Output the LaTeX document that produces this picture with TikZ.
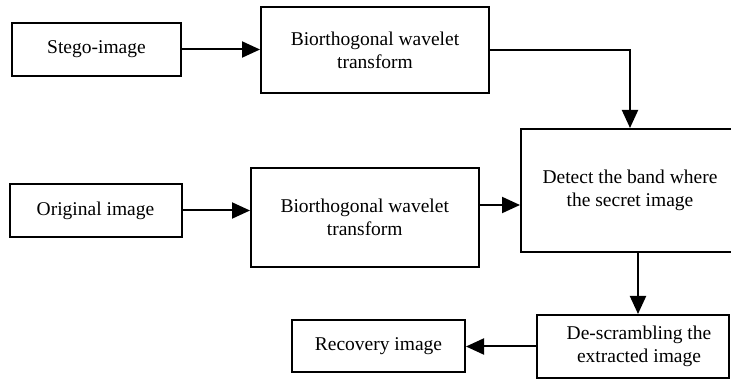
\documentclass[tikz,border=0pt]{standalone}
\usepackage{fontspec}
\setmainfont{Liberation Serif}
\newfontfamily\diagfont{Liberation Serif}
\usetikzlibrary{arrows.meta}
\begin{document}
\begin{tikzpicture}[x=1pt,y=-1pt,
  box/.style={draw,line width=2pt,align=center,inner sep=0pt,
    font=\diagfont\fontsize{19.5}{23}\selectfont},
  conn/.style={line width=2pt,-{Triangle[length=18pt,width=16pt]}}]
\useasboundingbox (0,0) rectangle (731,379);
\node[box,minimum width=169pt,minimum height=53pt] (stego) at (96.5,49.5) {Stego-image};
\node[box,minimum width=228pt,minimum height=86pt] (top) at (375,50) {Biorthogonal wavelet\\transform};
\node[box,minimum width=172pt,minimum height=53pt] (orig) at (95.5,210.5) {Original image};
\node[box,minimum width=227.5pt,minimum height=99pt] (mid) at (364.75,217.5) {Biorthogonal wavelet\\transform};
\node[box,minimum width=218pt,minimum height=123.5pt] (detect) at (630,190.75) {Detect the band where\\the secret image};
\node[box,minimum width=192pt,minimum height=63pt] (desc) at (633,346.5) {\hspace{12pt}De-scrambling the\\\hspace{12pt}extracted image};
\node[box,minimum width=173pt,minimum height=52pt] (rec) at (378.5,346) {Recovery image};
\draw[conn] (stego.east) -- (stego.east -| top.west);
\draw[conn] (top.east) -| (detect.north);
\draw[conn] (orig.east) -- (orig.east -| mid.west);
\draw[conn] ([yshift=12.5pt]mid.east) -- ([yshift=12.5pt]mid.east -| detect.west);
\draw[conn] ([xshift=8pt]detect.south) -- ([xshift=8pt]detect.south |- desc.north);
\draw[conn] (desc.west) -- (desc.west -| rec.east);
\end{tikzpicture}
\end{document}
